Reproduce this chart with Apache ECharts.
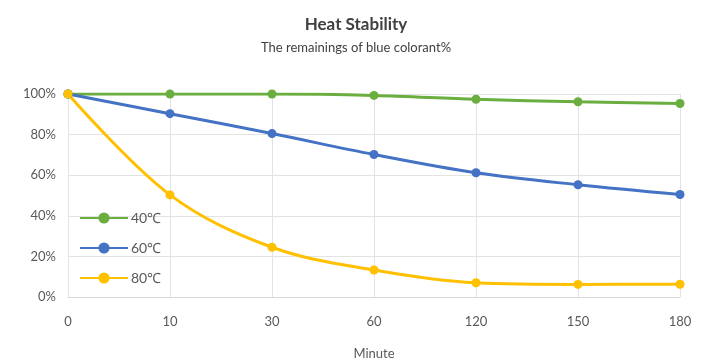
<!DOCTYPE html>
<html><head><meta charset="utf-8">
<script src="https://cdn.jsdelivr.net/npm/echarts@6/dist/echarts.min.js"></script>
<style>html,body{margin:0;padding:0;background:#fff}#c{width:712px;height:362px}</style>
</head><body><div id="c"></div>
<script>
const categories = ['0','10','30','60','120','150','180'];
const s40 = [100, 100, 100, 99.3, 97.4, 96.2, 95.3];
const s60 = [100, 90.3, 80.5, 70.2, 61.2, 55.3, 50.5];
const s80 = [100, 50.3, 24.5, 13.3, 7.0, 6.2, 6.3];
const seriesNames = ['40℃', '60℃', '80℃'];
const colors = ['#6AAE3F', '#4472C4', '#FFC000'];
const yTicks = [0, 20, 40, 60, 80, 100];

const font = 'Lato, "Open Sans", sans-serif';
const chart = echarts.init(document.getElementById('c'));
const mk = (name, data, color) => ({
  name, type: 'line', data, smooth: 0.35,
  symbol: 'circle', symbolSize: 9,
  lineStyle: {width: 3, color}, itemStyle: {color},
  z: 3
});
chart.setOption({
  animation: false,
  title: {
    text: 'Heat Stability',
    subtext: 'The remainings of blue colorant%',
    left: 'center', top: 11, itemGap: 8,
    textStyle: {fontFamily: font, fontSize: 17, fontWeight: 'bold', color: '#404040'},
    subtextStyle: {fontFamily: font, fontSize: 13, color: '#404040'}
  },
  legend: {
    orient: 'vertical', left: 74, top: 206, itemGap: 16,
    itemWidth: 48, itemHeight: 14,
    textStyle: {fontFamily: font, fontSize: 14, color: '#595959', padding: [0,0,0,-2]},
    data: seriesNames
  },
  grid: {left: 68, right: 32, top: 94, bottom: 65, outerBoundsMode: 'none', containLabel: false},
  xAxis: {
    type: 'category', data: categories, boundaryGap: false,
    name: 'Minute', nameLocation: 'middle', nameGap: 50,
    nameTextStyle: {fontFamily: font, fontSize: 13, color: '#595959'},
    axisLine: {lineStyle: {color: '#D9D9D9'}},
    axisTick: {show: false},
    axisLabel: {fontFamily: font, fontSize: 13, color: '#595959', margin: 18},
    splitLine: {show: true, lineStyle: {color: '#E3E3E3'}}
  },
  yAxis: {
    type: 'value', min: 0, max: 100, interval: 20,
    axisLine: {show: false}, axisTick: {show: false},
    axisLabel: {fontFamily: font, fontSize: 13, color: '#595959', margin: 12,
      formatter: v => yTicks.includes(v) ? v + '%' : ''},
    splitLine: {lineStyle: {color: '#E3E3E3'}}
  },
  series: [mk(seriesNames[0], s40, colors[0]), mk(seriesNames[1], s60, colors[1]), mk(seriesNames[2], s80, colors[2])]
});
</script></body></html>
